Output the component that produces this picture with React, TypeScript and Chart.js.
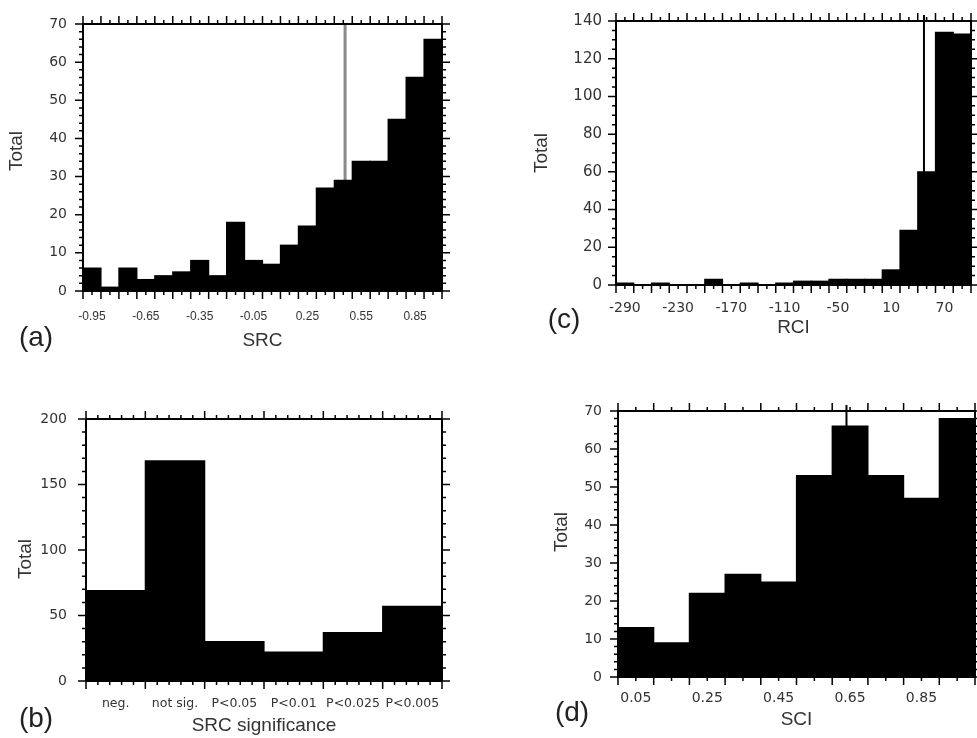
import React, { useEffect, useRef } from "react";
import { Chart, registerables } from "chart.js";

Chart.register(...registerables);

// ---------------- Data ----------------
// (a) SRC histogram, bins of width 0.1 from -1 to 1
const srcBinCenters = [-0.95, -0.85, -0.75, -0.65, -0.55, -0.45, -0.35, -0.25, -0.15, -0.05, 0.05, 0.15, 0.25, 0.35, 0.45, 0.55, 0.65, 0.75, 0.85, 0.95];
const srcTotals = [6, 1, 6, 3, 4, 5, 8, 4, 18, 8, 7, 12, 17, 27, 29, 34, 34, 45, 56, 66];
const srcTickValues = [-0.95, -0.65, -0.35, -0.05, 0.25, 0.55, 0.85];
const srcTickLabels = ["-0.95", "-0.65", "-0.35", "-0.05", "0.25", "0.55", "0.85"];
const srcMean = 0.46;

// (c) RCI histogram, bins of width 20 from -300 to 100
const rciBinCenters = [-290, -270, -250, -230, -210, -190, -170, -150, -130, -110, -90, -70, -50, -30, -10, 10, 30, 50, 70, 90];
const rciTotals = [1, 0, 1, 0, 0, 3, 0, 1, 0, 1, 2, 2, 3, 3, 3, 8, 29, 60, 134, 133];
const rciTickValues = [-290, -230, -170, -110, -50, 10, 70];
const rciTickLabels = ["-290", "-230", "-170", "-110", "-50", "10", "70"];
const rciMean = 47;

// (b) SRC significance classes
const sigCategories = ["neg.", "not sig.", "P<0.05", "P<0.01", "P<0.025", "P<0.005"];
const sigTotals = [69, 168, 30, 22, 37, 57];

// (d) SCI histogram, bins of width 0.1 from 0 to 1
const sciBinCenters = [0.05, 0.15, 0.25, 0.35, 0.45, 0.55, 0.65, 0.75, 0.85, 0.95];
const sciTotals = [13, 9, 22, 27, 25, 53, 66, 53, 47, 68];
const sciTickValues = [0.05, 0.25, 0.45, 0.65, 0.85];
const sciTickLabels = ["0.05", "0.25", "0.45", "0.65", "0.85"];
const sciMean = 0.64;

const yTitleText = "Total";

// ---------------- helpers ----------------
function steps(start: number, stop: number, step: number): number[] {
  const out: number[] = [];
  const n = Math.round((stop - start) / step);
  for (let i = 0; i <= n; i++) out.push(+(start + i * step).toFixed(6));
  return out;
}

const TEXT = "#333";
const SANS = '"Liberation Sans", Arial, Helvetica, sans-serif';
const DEJA = '"DejaVu Sans", sans-serif';

type Spec = {
  kind: "linear" | "category";
  xs: any[];
  values: number[];
  xMin?: number;
  xMax?: number;
  tickValues?: number[];
  tickLabels?: string[];
  yMax: number;
  yStep: number;
  xMajor: number[];
  xMinor: number[];
  yMajor: number[];
  yMinor: number[];
  mean?: number;
  meanColor?: string;
  meanWidth?: number;
  meanAbove?: number;
  box: { x: number; y: number; w: number; h: number };
  pad: { top: number; right: number };
  yWidth: number;
  xHeight: number;
  xTickFont: { family: string; size: number };
  xTickPad: number;
  yTickFont: { family: string; size: number };
  yTickPad: number;
  xTitle: string;
  xTitlePad: number;
  yTitlePos: [number, number];
  letter: string;
  letterPos: [number, number];
};

const MAJ = 8;
const MIN = 4;

function makeDecor(spec: Spec) {
  return {
    id: "decor",
    beforeDatasetsDraw(chart: any) {
      if (spec.mean === undefined) return;
      const { ctx, chartArea } = chart;
      const px = chart.scales.x.getPixelForValue(spec.mean);
      ctx.save();
      ctx.strokeStyle = spec.meanColor;
      ctx.lineWidth = spec.meanWidth;
      ctx.beginPath();
      ctx.moveTo(px, chartArea.top - (spec.meanAbove || 0));
      ctx.lineTo(px, chartArea.bottom);
      ctx.stroke();
      ctx.restore();
    },
    afterDraw(chart: any) {
      const { ctx, chartArea: a } = chart;
      const xs = chart.scales.x;
      const ys = chart.scales.y;
      ctx.save();
      ctx.strokeStyle = "#000";
      ctx.lineWidth = 1.5;
      ctx.beginPath();
      const seg = (x1: number, y1: number, x2: number, y2: number) => {
        ctx.moveTo(x1, y1);
        ctx.lineTo(x2, y2);
      };
      for (const v of spec.xMajor) {
        const p = xs.getPixelForValue(v);
        seg(p, a.top, p, a.top - MAJ);
        seg(p, a.bottom, p, a.bottom + MAJ);
      }
      for (const v of spec.xMinor) {
        const p = xs.getPixelForValue(v);
        seg(p, a.top, p, a.top - MIN);
        seg(p, a.bottom, p, a.bottom + MIN);
      }
      for (const v of spec.yMajor) {
        const p = ys.getPixelForValue(v);
        seg(a.left, p, a.left - MAJ, p);
        seg(a.right, p, a.right + MAJ, p);
      }
      for (const v of spec.yMinor) {
        const p = ys.getPixelForValue(v);
        seg(a.left, p, a.left - MIN, p);
        seg(a.right, p, a.right + MIN, p);
      }
      ctx.stroke();
      ctx.lineWidth = 2;
      ctx.strokeRect(a.left, a.top, a.right - a.left, a.bottom - a.top);
      ctx.restore();

      ctx.save();
      ctx.fillStyle = TEXT;
      ctx.font = `19px ${SANS}`;
      ctx.textAlign = "center";
      ctx.textBaseline = "middle";
      ctx.translate(spec.yTitlePos[0], spec.yTitlePos[1]);
      ctx.rotate(-Math.PI / 2);
      ctx.fillText(yTitleText, 0, 0);
      ctx.restore();

      ctx.save();
      ctx.fillStyle = "#222";
      ctx.font = `28px ${SANS}`;
      ctx.textAlign = "center";
      ctx.textBaseline = "middle";
      ctx.fillText(spec.letter, spec.letterPos[0], spec.letterPos[1]);
      ctx.restore();
    },
  };
}

function buildConfig(spec: Spec): any {
  const isLin = spec.kind === "linear";
  const data = isLin
    ? spec.xs.map((c: number, i: number) => ({ x: c, y: spec.values[i] }))
    : spec.values;
  const xScale: any = {
    type: isLin ? "linear" : "category",
    offset: !isLin,
    grid: { display: false },
    border: { display: false },
    ticks: {
      autoSkip: false,
      maxRotation: 0,
      minRotation: 0,
      padding: spec.xTickPad,
      color: TEXT,
      font: spec.xTickFont,
    },
    title: {
      display: true,
      text: spec.xTitle,
      color: TEXT,
      font: { family: SANS, size: 19, lineHeight: 1 },
      padding: { top: 0, bottom: spec.xTitlePad },
    },
    afterFit: (s: any) => {
      s.height = spec.xHeight;
    },
  };
  if (isLin) {
    xScale.min = spec.xMin;
    xScale.max = spec.xMax;
    xScale.afterBuildTicks = (s: any) => {
      s.ticks = (spec.tickValues || []).map((v) => ({ value: v }));
    };
    xScale.ticks.callback = (_v: any, i: number) => (spec.tickLabels || [])[i];
  }
  return {
    type: "bar",
    data: {
      labels: isLin ? undefined : spec.xs,
      datasets: [
        {
          data,
          backgroundColor: "#000",
          borderWidth: 0,
          inflateAmount: 0.6,
          barPercentage: 1,
          categoryPercentage: 1,
        },
      ],
    },
    options: {
      responsive: false,
      animation: false,
      devicePixelRatio: 1,
      layout: { padding: { top: spec.pad.top, right: spec.pad.right, left: 0, bottom: 0 } },
      plugins: { legend: { display: false }, title: { display: false }, tooltip: { enabled: false } },
      scales: {
        x: xScale,
        y: {
          min: 0,
          max: spec.yMax,
          grid: { display: false },
          border: { display: false },
          ticks: {
            stepSize: spec.yStep,
            padding: spec.yTickPad,
            color: TEXT,
            font: spec.yTickFont,
          },
          afterFit: (s: any) => {
            s.width = spec.yWidth;
          },
        },
      },
    },
    plugins: [makeDecor(spec)],
  };
}

const specs: Spec[] = [
  {
    kind: "linear",
    xs: srcBinCenters,
    values: srcTotals,
    xMin: -1,
    xMax: 1,
    tickValues: srcTickValues,
    tickLabels: srcTickLabels,
    yMax: 70,
    yStep: 10,
    xMajor: steps(-1, 1, 0.1),
    xMinor: srcBinCenters,
    yMajor: steps(0, 70, 10),
    yMinor: steps(0, 70, 2),
    mean: srcMean,
    meanColor: "#8a8a8a",
    meanWidth: 3,
    meanAbove: 0,
    box: { x: 0, y: 0, w: 500, h: 365 },
    pad: { top: 24, right: 58 },
    yWidth: 83,
    xHeight: 74,
    xTickFont: { family: SANS, size: 12 },
    xTickPad: 10.5,
    yTickFont: { family: DEJA, size: 14 },
    yTickPad: 8,
    xTitle: "SRC",
    xTitlePad: 14.5,
    yTitlePos: [17, 151],
    letter: "(a)",
    letterPos: [36, 338],
  },
  {
    kind: "linear",
    xs: rciBinCenters,
    values: rciTotals,
    xMin: -300,
    xMax: 100,
    tickValues: rciTickValues,
    tickLabels: rciTickLabels,
    yMax: 140,
    yStep: 20,
    xMajor: steps(-300, 100, 20),
    xMinor: rciBinCenters,
    yMajor: steps(0, 140, 20),
    yMinor: steps(0, 140, 5),
    mean: rciMean,
    meanColor: "#000",
    meanWidth: 2,
    meanAbove: 6,
    box: { x: 500, y: 0, w: 477, h: 365 },
    pad: { top: 21, right: 6 },
    yWidth: 116,
    xHeight: 80,
    xTickFont: { family: DEJA, size: 14 },
    xTickPad: 6.6,
    yTickFont: { family: DEJA, size: 15 },
    yTickPad: 6,
    xTitle: "RCI",
    xTitlePad: 27.5,
    yTitlePos: [42, 153],
    letter: "(c)",
    letterPos: [64, 320],
  },
  {
    kind: "category",
    xs: sigCategories,
    values: sigTotals,
    yMax: 200,
    yStep: 50,
    xMajor: steps(-0.5, 5.5, 1),
    xMinor: steps(-0.5, 5.5, 0.2),
    yMajor: steps(0, 200, 50),
    yMinor: steps(0, 200, 10),
    box: { x: 0, y: 365, w: 500, h: 373 },
    pad: { top: 54, right: 58 },
    yWidth: 86,
    xHeight: 57,
    xTickFont: { family: DEJA, size: 12.5 },
    xTickPad: 7.5,
    yTickFont: { family: DEJA, size: 14 },
    yTickPad: 11,
    xTitle: "SRC significance",
    xTitlePad: 2.5,
    yTitlePos: [26, 194],
    letter: "(b)",
    letterPos: [36, 354],
  },
  {
    kind: "linear",
    xs: sciBinCenters,
    values: sciTotals,
    xMin: 0,
    xMax: 1,
    tickValues: sciTickValues,
    tickLabels: sciTickLabels,
    yMax: 70,
    yStep: 10,
    xMajor: steps(0, 1, 0.1),
    xMinor: sciBinCenters,
    yMajor: steps(0, 70, 10),
    yMinor: steps(0, 70, 2),
    mean: sciMean,
    meanColor: "#000",
    meanWidth: 2,
    meanAbove: 6,
    box: { x: 500, y: 365, w: 477, h: 373 },
    pad: { top: 46, right: 2 },
    yWidth: 118,
    xHeight: 61,
    xTickFont: { family: DEJA, size: 14 },
    xTickPad: 4.6,
    yTickFont: { family: DEJA, size: 14 },
    yTickPad: 8,
    xTitle: "SCI",
    xTitlePad: 8.5,
    yTitlePos: [62, 167],
    letter: "(d)",
    letterPos: [72, 348],
  },
];

function Panel({ spec }: { spec: Spec }) {
  const ref = useRef<HTMLCanvasElement>(null);
  useEffect(() => {
    if (!ref.current) return;
    const chart = new Chart(ref.current, buildConfig(spec));
    return () => chart.destroy();
  }, [spec]);
  return (
    <canvas
      ref={ref}
      width={spec.box.w}
      height={spec.box.h}
      style={{
        position: "absolute",
        left: spec.box.x,
        top: spec.box.y,
        width: spec.box.w,
        height: spec.box.h,
      }}
    />
  );
}

export default function App() {
  return (
    <div
      style={{
        position: "absolute",
        left: 0,
        top: 0,
        width: 977,
        height: 738,
        background: "#fff",
        overflow: "hidden",
      }}
    >
      {specs.map((s) => (
        <Panel key={s.letter} spec={s} />
      ))}
    </div>
  );
}
